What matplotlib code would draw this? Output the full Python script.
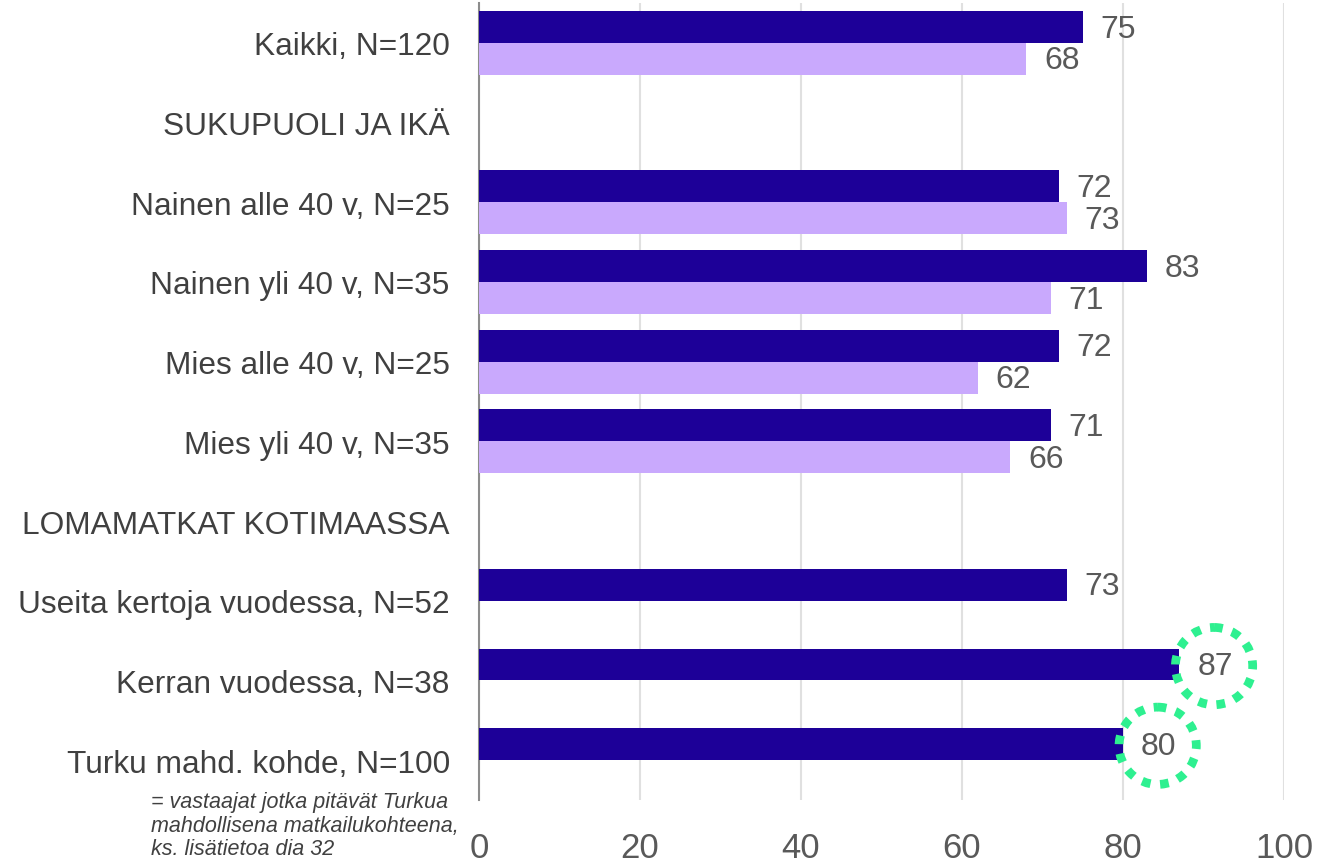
import numpy as np
import matplotlib
matplotlib.use("Agg")
import matplotlib.pyplot as plt
from matplotlib.patches import Ellipse

plt.rcParams['font.family'] = ['Liberation Sans', 'DejaVu Sans']

categories = ["Kaikki, N=120", "SUKUPUOLI JA IKÄ", "Nainen alle 40 v, N=25",
              "Nainen yli 40 v, N=35", "Mies alle 40 v, N=25", "Mies yli 40 v, N=35",
              "LOMAMATKAT KOTIMAASSA", "Useita kertoja vuodessa, N=52",
              "Kerran vuodessa, N=38", "Turku mahd. kohde, N=100"]
series_dark = [75, np.nan, 72, 83, 72, 71, np.nan, 73, 87, 80]
series_light = [68, np.nan, 73, 71, 62, 66, np.nan, np.nan, np.nan, np.nan]
highlighted = [8, 9]
xticks = [0, 20, 40, 60, 80, 100]
footnote = "= vastaajat jotka pitävät Turkua\nmahdollisena matkailukohteena,\nks. lisätietoa dia 32"

dark = "#1d0098"
light = "#c9a9fd"
green = "#2ef090"
txt = "#404040"
lbl = "#595959"

fig = plt.figure(figsize=(13.17, 8.62), dpi=100)
ax = fig.add_axes([0.3637, 0.0708, 0.6113, 0.9245])

y = np.arange(len(categories))
h = 0.4
ax.barh(y - h/2, series_dark, height=h, color=dark, zorder=3)
ax.barh(y + h/2, series_light, height=h, color=light, zorder=3)

for i, v in enumerate(series_dark):
    if not np.isnan(v):
        ax.text(v + 2.2, y[i] - h/2 + 0.02, f"{v:.0f}", va="center", ha="left",
                fontsize=23, color=lbl, zorder=5)
        if i in highlighted:
            ax.add_patch(Ellipse((v + 4.3, y[i] - h/2 + 0.02), 9.6, 0.97, fill=False,
                                 edgecolor=green, lw=6.3, linestyle=(0, (1, 1.1)),
                                 zorder=6, clip_on=False))
for i, v in enumerate(series_light):
    if not np.isnan(v):
        ax.text(v + 2.2, y[i] + h/2 + 0.02, f"{v:.0f}", va="center", ha="left",
                fontsize=23, color=lbl, zorder=5)

ax.set_xlim(0, 100)
ax.set_ylim(len(categories) - 0.5, -0.5)
ax.set_xticks(xticks)
ax.set_xticklabels([str(t) for t in xticks], fontsize=25, color=lbl)
ax.tick_params(axis='both', length=0)
ax.set_yticks(y)
ax.set_yticklabels(categories, fontsize=22.8, color=txt)
ax.tick_params(axis='y', pad=21)
ax.tick_params(axis='x', pad=22)
ax.grid(axis='x', color="#e0e0e0", lw=1.5, zorder=0)
for s in ["top", "right", "bottom"]:
    ax.spines[s].set_visible(False)
ax.spines["left"].set_color("#8c8c8c")
ax.spines["left"].set_linewidth(1.5)

fig.text(151/1317, 1 - 792/862, footnote, ha="left", va="top", fontsize=15.5,
         style="italic", color=txt, linespacing=1.17)

fig.savefig("out.png", dpi=100)
